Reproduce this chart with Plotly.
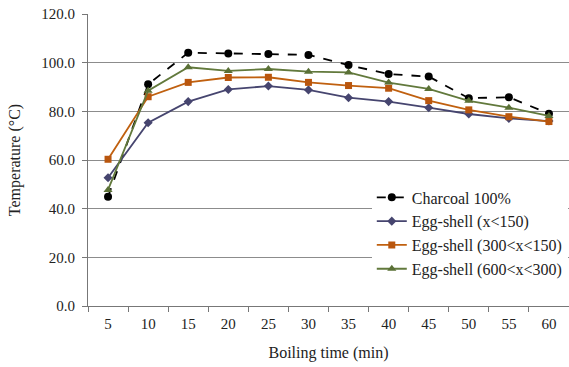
import plotly.graph_objects as go

times = ["5", "10", "15", "20", "25", "30", "35", "40", "45", "50", "55", "60"]
charcoal = [44.9, 91.1, 104.1, 103.8, 103.6, 103.2, 99.0, 95.3, 94.3, 85.4, 85.8, 79.0]
egg_lt150 = [52.7, 75.3, 84.0, 89.0, 90.4, 88.8, 85.6, 84.0, 81.5, 78.9, 77.1, 76.0]
egg_300_150 = [60.3, 86.0, 91.9, 93.9, 94.0, 91.9, 90.6, 89.5, 84.4, 80.6, 77.8, 75.8]
egg_600_300 = [47.7, 88.5, 98.1, 96.6, 97.4, 96.3, 96.0, 91.8, 89.2, 84.3, 81.5, 78.1]
y_ticks = [0, 20, 40, 60, 80, 100, 120]

font = "Liberation Serif, Times New Roman, serif"

fig = go.Figure()
fig.add_trace(go.Scatter(x=times, y=charcoal, name="Charcoal 100%", mode="lines+markers",
                         line=dict(color="black", width=1.8, dash="dash"),
                         marker=dict(symbol="circle", size=8, color="black")))
fig.add_trace(go.Scatter(x=times, y=egg_lt150, name="Egg-shell (x<150)", mode="lines+markers",
                         line=dict(color="#46456f", width=1.8),
                         marker=dict(symbol="diamond", size=7, color="#46456f")))
fig.add_trace(go.Scatter(x=times, y=egg_300_150, name="Egg-shell (300<x<150)", mode="lines+markers",
                         line=dict(color="#c0600f", width=1.8),
                         marker=dict(symbol="square", size=7, color="#b9560e")))
fig.add_trace(go.Scatter(x=times, y=egg_600_300, name="Egg-shell (600<x<300)", mode="lines+markers",
                         line=dict(color="#62793c", width=1.8),
                         marker=dict(symbol="triangle-up", size=8, color="#5a7036")))

fig.update_layout(
    width=569, height=367,
    margin=dict(l=88, r=0, t=14, b=61),
    paper_bgcolor="white", plot_bgcolor="white",
    font=dict(family=font, size=15, color="#222"),
    showlegend=True,
    legend=dict(x=0.59, y=0.43, xanchor="left", yanchor="top",
                bgcolor="white", borderwidth=0, itemwidth=30,
                font=dict(family=font, size=16, color="#222"), tracegroupgap=0),
    xaxis=dict(type="category", range=[-0.5, 11.5], showgrid=False,
               showline=True, linecolor="#777", linewidth=1,
               ticks="outside", tickson="boundaries", ticklen=5, tickcolor="#777",
               ticklabelstandoff=4,
               title=dict(text="Boiling time (min)", font=dict(family=font, size=16), standoff=15)),
    yaxis=dict(range=[0, 120], tickvals=y_ticks, tickformat=".1f",
               showgrid=True, gridcolor="#8c8c8c", gridwidth=1,
               showline=True, linecolor="#777", linewidth=1,
               ticks="outside", ticklen=5, tickcolor="#777", zeroline=False,
               ticklabelstandoff=4,
               title=dict(text="Temperature (°C)", font=dict(family=font, size=16), standoff=16)),
)

fig.write_html("out.html", config={"displayModeBar": False},
               post_script="document.body.style.margin='0';")
